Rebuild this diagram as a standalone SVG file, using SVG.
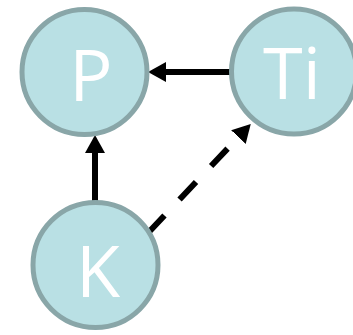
<svg xmlns="http://www.w3.org/2000/svg" width="353" height="335" viewBox="0 0 353 335">
<style>
.node circle{fill:#b9e0e4;stroke:#89a6a8;stroke-width:5}
.node text{fill:#ffffff;font-family:"Open Sans","Noto Sans",sans-serif;font-size:72px;text-anchor:middle}
.edge{stroke:#000;stroke-width:6;fill:none}
.dash{stroke-dasharray:24 22}
</style>
<defs>
<marker id="ah" markerUnits="userSpaceOnUse" markerWidth="18" markerHeight="20" refX="0" refY="10" orient="auto" viewBox="0 0 18 20">
<path d="M0,0 L18,10 L0,20 z" fill="#000"/>
</marker>
</defs>
<g id="connectors">
<line class="edge" x1="230" y1="72" x2="166" y2="72" marker-end="url(#ah)"/>
<line class="edge" x1="95" y1="202" x2="95" y2="153" marker-end="url(#ah)"/>
<line class="edge dash" x1="148" y1="233" x2="238.4" y2="137.1" marker-end="url(#ah)"/>
</g>
<g id="node-P" class="node">
<circle cx="84.5" cy="72" r="62.5"/>
<text x="91" y="101">P</text>
</g>
<g id="node-Ti" class="node">
<circle cx="294" cy="71.5" r="62.5"/>
<text x="292" y="99">Ti</text>
</g>
<g id="node-K" class="node">
<circle cx="95.5" cy="265" r="62.5"/>
<text x="98" y="297">K</text>
</g>
</svg>
